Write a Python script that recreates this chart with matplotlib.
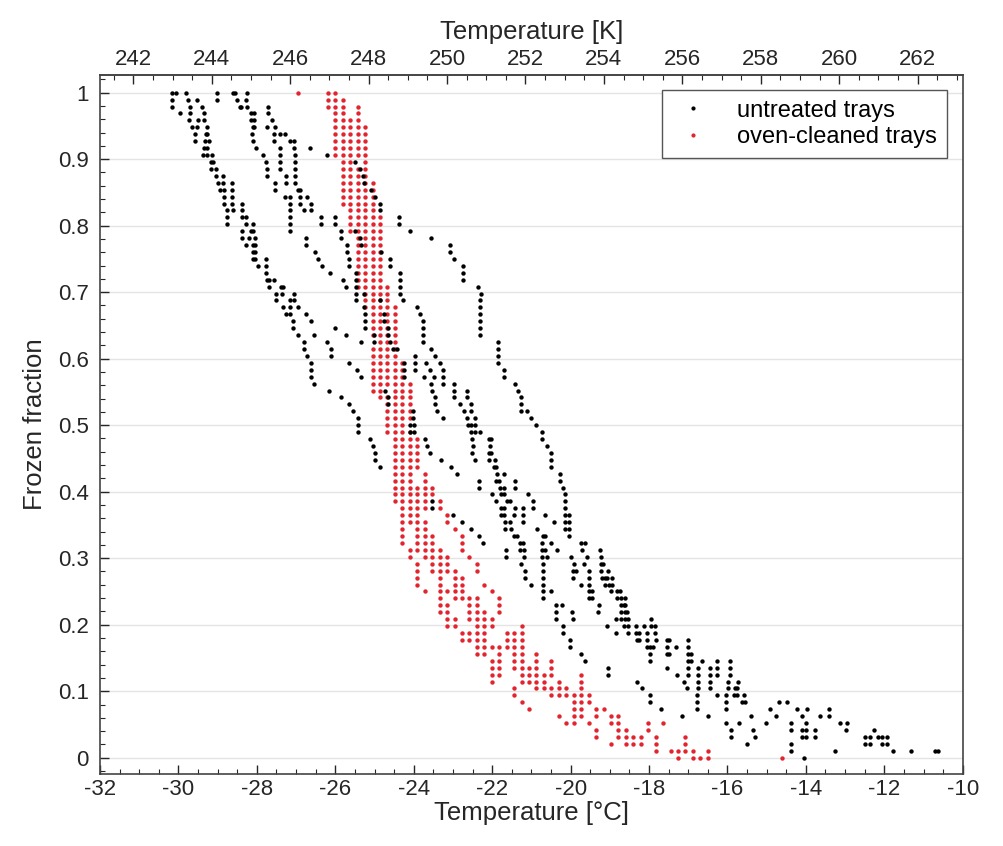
import matplotlib
matplotlib.use("Agg")
import matplotlib.pyplot as plt
from matplotlib.lines import Line2D
from matplotlib.ticker import MultipleLocator, FuncFormatter, FixedLocator

plt.rcParams['font.family'] = ['Liberation Sans', 'DejaVu Sans']
plt.rcParams['axes.unicode_minus'] = False

n_wells = 96

# untreated trays: freezing temperatures (degC) read per frozen-well count,
# first list = 96 frozen wells, last list = 0 frozen wells
black_T = [
    [-30.17, -30.06, -29.81, -29.02, -28.61, -28.55, -28.25],
    [-30.17, -29.76, -29.53, -29.02, -28.51, -28.27],
    [-30.17, -29.70, -29.40, -28.44, -28.40, -28.25, -27.72],
    [-29.96, -29.70, -29.34, -28.15, -28.08, -27.72],
    [-29.74, -29.51, -29.34, -28.15, -28.07, -27.62],
    [-29.66, -29.53, -29.26, -28.10, -28.07, -27.73, -27.53],
    [-29.57, -29.29, -29.26, -28.13, -27.57, -27.42, -27.28],
    [-29.57, -29.32, -29.21, -28.11, -27.57, -27.15, -27.06],
    [-29.36, -29.26, -28.02, -27.40, -27.06, -26.64],
    [-29.38, -29.26, -29.15, -27.85, -27.40, -27.02, -26.21],
    [-29.17, -29.12, -27.76, -27.40, -27.02, -25.49],
    [-29.17, -29.04, -27.73, -27.40, -27.02, -25.38],
    [-29.04, -28.87, -27.73, -27.25, -27.02, -25.29],
    [-28.99, -28.87, -28.64, -27.53, -27.25, -27.02, -25.28],
    [-28.94, -28.85, -28.64, -27.53, -26.94, -26.89, -25.09],
    [-28.85, -28.64, -27.28, -27.15, -26.91, -26.72, -24.98],
    [-28.85, -28.64, -28.38, -27.15, -26.89, -26.62, -24.87],
    [-28.77, -28.60, -28.38, -27.15, -26.81, -26.62, -24.87],
    [-28.77, -28.38, -28.27, -27.15, -26.37, -26.00, -24.38],
    [-28.77, -28.27, -28.10, -27.15, -26.37, -26.00, -24.38],
    [-28.38, -28.15, -28.10, -27.15, -25.85, -25.49, -24.09],
    [-28.38, -28.21, -28.04, -26.74, -25.85, -25.36, -23.55],
    [-28.27, -28.10, -28.04, -26.74, -25.69, -25.35, -23.08],
    [-28.10, -28.04, -26.51, -25.69, -24.83, -23.08],
    [-28.10, -28.04, -27.76, -26.43, -25.64, -24.60, -22.98],
    [-27.98, -27.76, -26.34, -25.64, -24.60, -22.74],
    [-27.76, -26.13, -25.46, -24.34, -22.74],
    [-27.74, -27.68, -27.57, -25.80, -25.46, -24.34, -22.74],
    [-27.68, -27.39, -27.34, -25.73, -25.46, -24.34, -22.37],
    [-27.51, -27.36, -27.05, -25.46, -25.28, -24.34, -22.28],
    [-27.51, -27.15, -27.06, -25.46, -24.87, -24.27, -22.30],   # 66
    [-27.34, -27.15, -26.94, -25.26, -23.92, -22.30],
    [-27.25, -27.15, -26.74, -25.23, -24.77, -23.85, -22.30],
    [-27.08, -26.62, -25.23, -24.77, -23.76, -22.30],
    [-27.08, -26.00, -25.23, -24.66, -23.76, -22.30],
    [-26.94, -26.54, -25.72, -25.02, -24.66, -23.76, -22.30],
    [-26.79, -26.20, -25.35, -25.02, -24.61, -23.76, -21.86],
    [-26.79, -26.11, -24.53, -24.43, -23.57, -21.86],
    [-26.71, -26.11, -23.96, -23.45, -21.86],
    [-26.62, -25.66, -24.24, -23.96, -23.68, -23.32, -21.86],
    [-26.62, -25.45, -24.24, -23.96, -23.59, -23.25, -21.69],
    [-26.62, -25.35, -24.24, -23.75, -23.49, -23.25, -21.69],
    [-26.54, -23.57, -23.25, -22.98, -21.41],
    [-26.16, -24.72, -23.53, -22.98, -22.64, -21.35],
    [-25.86, -24.66, -23.46, -22.98, -22.64, -21.26],
    [-25.64, -24.66, -23.45, -22.83, -22.54, -21.26],
    [-25.55, -24.02, -23.41, -22.72, -22.54, -21.26, -21.12],
    [-25.43, -24.02, -23.25, -22.64, -22.45, -21.00],
    [-25.43, -24.09, -24.00, -22.62, -22.55, -22.45, -20.87],
    [-25.43, -24.09, -24.00, -22.55, -22.45, -22.30, -20.72],
    [-25.12, -23.70, -22.51, -22.09, -22.03, -20.72],
    [-25.05, -23.65, -22.50, -22.06, -20.60],
    [-25.00, -23.59, -22.51, -22.09, -22.04, -20.51],
    [-24.98, -23.30, -22.45, -22.09, -21.92, -20.51],
    [-24.87, -23.06, -21.96, -21.89, -20.51],
    [-22.89, -21.87, -21.70, -20.27],
    [-22.34, -21.89, -21.83, -21.41, -20.27],
    [-22.34, -21.79, -21.69, -21.41, -20.20],
    [-22.00, -21.77, -21.69, -21.09, -20.15],
    [-23.53, -21.89, -21.62, -21.55, -20.95, -20.15],
    [-23.53, -21.77, -21.69, -21.43, -21.21, -20.95, -20.15],
    [-23.00, -21.77, -21.69, -21.45, -21.21, -20.64, -20.15, -20.04],
    [-22.77, -21.66, -21.55, -21.21, -20.43, -20.15, -20.04],
    [-22.54, -21.66, -21.53, -20.85, -20.15, -20.04],
    [-22.34, -21.45, -21.36, -20.70, -20.64, -20.04],          # 32
    [-22.23, -21.29, -21.21, -20.72, -20.49, -19.73, -19.64],
    [-21.64, -21.28, -21.19, -20.72, -20.64, -20.34, -19.70, -19.25],
    [-21.64, -21.19, -20.72, -20.61, -19.98, -19.57, -19.23],
    [-21.26, -20.70, -19.92, -19.66, -19.23, -19.17],
    [-21.15, -20.70, -19.93, -19.85, -19.53, -19.23, -19.04],
    [-21.15, -20.70, -19.93, -19.53, -19.19, -19.13, -19.06, -18.94],
    [-21.00, -20.70, -19.73, -19.53, -19.13, -19.02, -18.94],
    [-20.70, -20.51, -19.53, -19.45, -18.96, -18.81, -18.74],
    [-20.70, -19.53, -19.45, -18.81, -18.71, -18.62],
    [-20.38, -20.21, -19.28, -18.71, -18.64, -18.60],
    [-20.38, -19.96, -19.30, -18.72, -18.62, -18.55],
    [-20.36, -19.93, -18.83, -18.72, -18.60, -18.54, -17.96],
    [-20.19, -19.06, -18.64, -18.54, -18.32, -18.13, -17.96, -17.86],
    [-20.19, -18.83, -18.54, -18.34, -18.26, -18.04, -17.86],
    [-20.02, -18.30, -18.26, -18.04, -17.83, -17.55, -17.49, -17.00],
    [-20.02, -18.04, -17.97, -17.91, -17.53, -17.30, -17.00],
    [-19.73, -17.97, -17.55, -17.49, -17.00, -16.94],
    [-19.62, -17.97, -17.00, -16.94, -16.66, -16.26, -15.93],
    [-19.04, -17.55, -17.00, -16.74, -16.44, -16.26, -15.93],
    [-19.04, -17.28, -17.00, -16.74, -16.44, -16.26, -15.93],
    [-18.30, -17.12, -16.74, -16.44, -15.98, -15.73],
    [-18.17, -17.02, -16.74, -16.44, -15.98, -15.81, -15.75],
    [-17.97, -16.78, -16.26, -16.04, -15.83, -15.75, -15.58],
    [-17.97, -16.78, -16.04, -15.62, -15.56, -14.68, -14.47],
    [-17.70, -16.78, -16.04, -14.91, -14.23, -13.96, -13.41],
    [-17.15, -16.49, -15.40, -14.77, -14.09, -13.63, -13.40],
    [-16.04, -15.70, -15.02, -14.39, -14.00, -13.12, -12.94],
    [-15.90, -15.36, -14.39, -14.09, -14.00, -13.76, -12.98, -12.26],
    [-15.90, -15.30, -14.09, -14.00, -13.76, -12.49, -12.36, -12.15, -12.07, -11.93],
    [-15.51, -14.37, -12.49, -12.36, -12.07, -11.93],
    [-14.37, -13.25, -11.79, -11.32, -10.72, -10.64],
    [-14.06],
]

# oven-cleaned trays: readings sit on a 0.19 K grid, T = red_t0 + red_dt * column
red_t0 = -26.19
red_dt = 0.19
red_cols = [
    [-4, 0, 1],                      # 96
    [0, 1, 2],
    [0, 1, 2, 4],
    [1, 2, 4],
    [1, 2, 3, 4],
    [1, 2, 3, 4, 5],
    [1, 2, 3, 4, 5],
    [1, 2, 3, 4, 5],
    [1, 2, 3, 4, 5],
    [1, 2, 3, 4, 5],
    [2, 3, 5],
    [2, 3, 4, 5],
    [2, 3, 4, 5],
    [2, 3, 4, 5, 6],
    [2, 3, 4, 5, 6],
    [2, 3, 4, 5, 6],
    [2, 3, 4, 5, 6],                 # 80
    [3, 4, 5, 6],
    [3, 4, 5, 6, 7],
    [3, 4, 5, 6, 7],
    [3, 4, 5, 6, 7],
    [4, 5, 6, 7],
    [4, 5, 6, 7],
    [4, 5, 6, 7],
    [4, 5, 6, 7],
    [4, 5, 6, 7],
    [4, 5, 6, 7],
    [4, 5, 6, 7],
    [4, 5, 6, 7, 8],
    [5, 6, 7, 8],
    [5, 6, 7, 8],                    # 66
    [5, 6, 7, 8, 9],
    [6, 7, 8, 9],
    [6, 7, 8, 9],
    [6, 7, 8, 9],
    [6, 7, 8, 9],
    [7, 8, 9],
    [6, 7, 8, 9],
    [6, 7, 8, 9],
    [6, 7, 8, 9, 10],
    [6, 7, 8, 9, 10],
    [6, 7, 8, 9, 10],
    [6, 7, 8, 9, 10, 11],
    [6, 7, 9, 10, 11],
    [7, 8, 9, 10, 11],
    [8, 9, 10, 11],
    [8, 9, 10, 11],                  # 50
    [8, 9, 10, 11],
    [8, 9, 10],
    [8, 9, 10, 11],
    [9, 10, 11, 12],
    [9, 10, 11, 12],
    [9, 10, 11, 12],
    [9, 10, 11, 12],
    [9, 10, 11, 12],
    [9, 10, 11, 13],
    [9, 10, 11, 13],                 # 40
    [9, 10, 11, 12, 13, 14],
    [9, 10, 11, 12, 13, 14],
    [9, 10, 11, 12, 13, 15],
    [10, 11, 12, 13, 15],
    [10, 11, 12, 16],
    [10, 11, 12, 13, 16],
    [10, 12, 13, 17],
    [10, 12, 13, 14, 18],
    [10, 12, 13, 14, 18],
    [11, 12, 13, 14, 15, 18],        # 30
    [11, 13, 14, 15, 16, 19],
    [12, 14, 15, 16, 20],
    [12, 14, 15, 16, 17, 20],
    [12, 15, 17, 18],
    [12, 15, 17, 18, 21],
    [13, 15, 16, 17, 18, 22],
    [15, 17, 18, 19, 20, 23],
    [15, 16, 19, 20, 23],
    [15, 16, 19, 20, 21, 23],
    [16, 17, 19, 20, 21, 22],        # 20
    [16, 17, 20, 21, 22, 26],
    [18, 19, 20, 21, 24, 25, 26],
    [18, 19, 20, 21, 24, 25, 26],
    [20, 21, 22, 23, 24, 25, 26],
    [20, 21, 23, 25, 26, 28],
    [22, 23, 25, 26, 28, 30],
    [22, 23, 25, 26, 27, 28, 30],
    [22, 23, 26, 27, 28, 29, 30, 34],
    [22, 26, 27, 28, 29, 31, 34],
    [25, 28, 29, 30, 31, 32, 34],    # 10
    [25, 30, 31, 32, 33, 34, 35],
    [26, 33, 34, 35],
    [27, 33, 34, 36, 37],
    [31, 33, 34, 36, 38, 39],
    [32, 33, 35, 38, 39, 43, 45],
    [36, 39, 40, 43],
    [36, 39, 40, 41, 42, 44, 48],
    [38, 40, 41, 42, 44, 48],
    [44, 46, 47, 48, 49, 51],
    [47, 49, 50, 51, 61],            # 0
]

kelvin_ticks = [242, 244, 246, 248, 250, 252, 254, 256, 258, 260, 262]

bx, by = [], []
for i, temps in enumerate(black_T):
    bx += temps
    by += [(n_wells - i) / n_wells] * len(temps)

rx, ry = [], []
for i, cols in enumerate(red_cols):
    rx += [red_t0 + red_dt * c for c in cols]
    ry += [(n_wells - i) / n_wells] * len(cols)

fig = plt.figure(figsize=(10.04, 8.46), dpi=100)
ax = fig.add_axes([0.0996, 0.0851, 0.8593, 0.8262])

red = '#e3232e'
ax.scatter(rx, ry, s=10, color=red, linewidths=0, zorder=3)
ax.scatter(bx, by, s=10, color='black', linewidths=0, zorder=4)

ax.set_xlim(-32, -10)
ax.set_ylim(-0.0245, 1.0265)
ax.xaxis.set_major_locator(MultipleLocator(2))
ax.xaxis.set_minor_locator(MultipleLocator(0.5))
ax.yaxis.set_major_locator(MultipleLocator(0.1))
ax.yaxis.set_minor_locator(MultipleLocator(0.02))
ax.yaxis.set_major_formatter(FuncFormatter(lambda v, p: '%g' % round(v, 2)))
ax.grid(axis='y', color='#e4e4e4', linewidth=1.0, zorder=0)
ax.set_axisbelow(True)

tick_col = '#262626'
for s in ax.spines.values():
    s.set_color('#444444')
    s.set_linewidth(1.2)
ax.tick_params(which='both', direction='in', colors=tick_col, labelsize=16,
               top=False, right=False)
ax.tick_params(which='major', length=6.5, width=1)
ax.tick_params(which='minor', length=3.5, width=0.8)
ax.tick_params(axis='y', pad=8)

ax.set_xlabel('Temperature [°C]', fontsize=18.5, color=tick_col, labelpad=1)
ax.set_ylabel('Frozen fraction', fontsize=18.5, color=tick_col, labelpad=8)

top = ax.secondary_xaxis('top', functions=(lambda c: c + 273.15, lambda k: k - 273.15))
top.xaxis.set_major_locator(FixedLocator(kelvin_ticks))
top.xaxis.set_minor_locator(MultipleLocator(0.5))
top.tick_params(which='both', direction='in', colors=tick_col, labelsize=16)
top.tick_params(which='major', length=6.5, width=1)
top.tick_params(which='minor', length=3.5, width=0.8)
top.spines['top'].set_color('#444444')
top.spines['top'].set_linewidth(1.2)
top.set_xlabel('Temperature [K]', fontsize=18.5, color=tick_col, labelpad=7)

handles = [
    Line2D([], [], linestyle='none', marker='.', markersize=4, color='black'),
    Line2D([], [], linestyle='none', marker='.', markersize=4, color=red),
]
leg = ax.legend(handles, ['untreated trays', 'oven-cleaned trays'],
                loc='upper right', bbox_to_anchor=(0.9815, 0.9785),
                borderaxespad=0, fontsize=17, fancybox=False, framealpha=1,
                edgecolor='#555555', handlelength=1.8, handletextpad=1.0,
                borderpad=0.4, labelspacing=0.2)
leg.get_frame().set_linewidth(1.0)

fig.savefig('out.png', dpi=100)
